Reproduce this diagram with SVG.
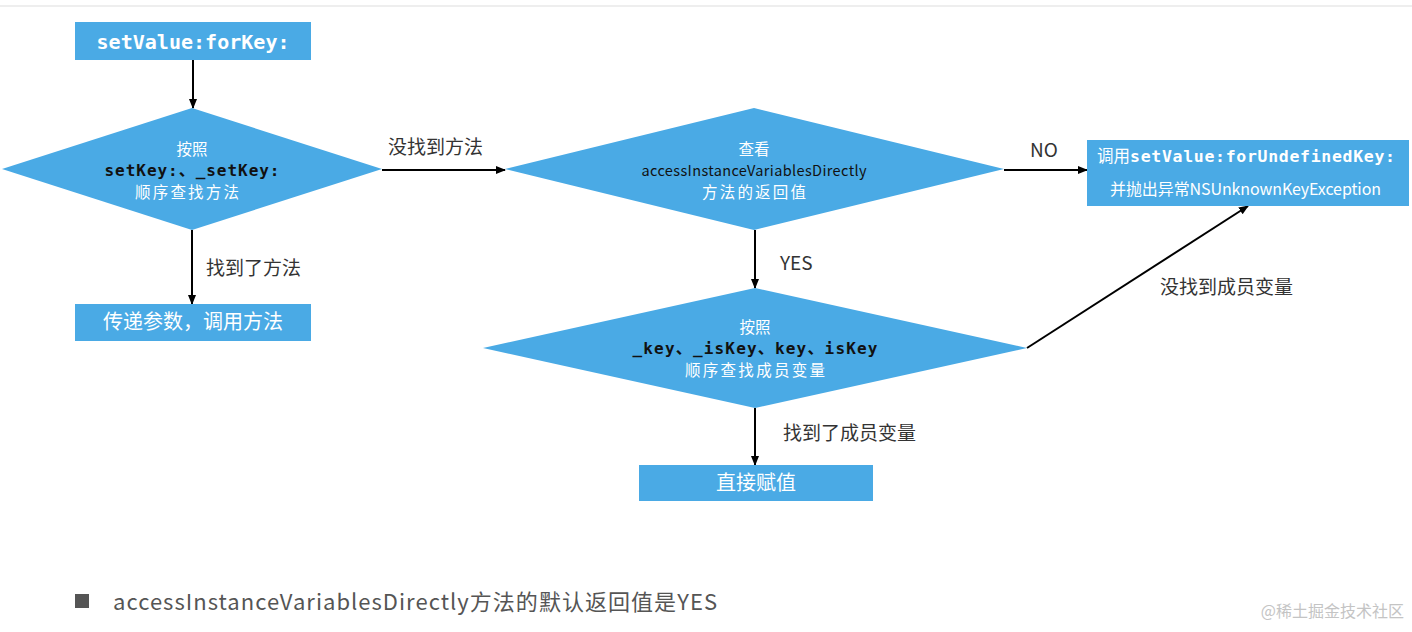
<svg xmlns="http://www.w3.org/2000/svg" width="1412" height="632" viewBox="0 0 1412 632">
<defs>
<style>
.node{fill:#4aaae5;}
.cn{font-family:"Noto Sans CJK SC","Noto Sans",sans-serif;}
.wt{fill:#ffffff;}
.mono{font-family:"DejaVu Sans Mono","Noto Sans CJK SC",monospace;font-weight:bold;}
.lbl{font-family:"Noto Sans CJK SC","Noto Sans",sans-serif;font-size:19px;fill:#333333;}
.edge{stroke:#000;stroke-width:2;fill:none;marker-end:url(#ah);}
</style>
<marker id="ah" markerWidth="10" markerHeight="10" refX="9" refY="5" orient="auto" markerUnits="userSpaceOnUse">
<path d="M0,1 L10,5 L0,9 Z" fill="#000"/>
</marker>
</defs>
<rect x="0" y="0" width="1412" height="632" fill="#ffffff"/>
<line x1="0" y1="6" x2="1412" y2="6" stroke="#eeeeee" stroke-width="2"/>

<g id="connectors">
<line class="edge" x1="193" y1="60" x2="193" y2="108"/>
<line class="edge" x1="192" y1="230" x2="192" y2="304"/>
<line class="edge" x1="382" y1="170" x2="505" y2="170"/>
<line class="edge" x1="1004" y1="170" x2="1087" y2="170"/>
<line class="edge" x1="755" y1="230" x2="755" y2="288"/>
<line class="edge" x1="755" y1="408" x2="755" y2="465"/>
<line class="edge" x1="1027" y1="348" x2="1248" y2="206"/>
<text class="lbl" x="388" y="154">没找到方法</text>
<text class="lbl" x="206" y="275">找到了方法</text>
<text class="lbl" x="1030" y="157" font-family="Liberation Sans,sans-serif">NO</text>
<text class="lbl" x="780" y="270">YES</text>
<text class="lbl" x="783" y="440">找到了成员变量</text>
<text class="lbl" x="1160" y="294">没找到成员变量</text>
</g>

<g id="start">
<rect class="node" x="75" y="22" width="236" height="38"/>
<text class="mono wt" x="193" y="49" font-size="20" text-anchor="middle" textLength="193">setValue:forKey:</text>
</g>

<g id="decision1">
<polygon class="node" points="2,169 192,108 382,169 192,230"/>
<text class="cn wt" x="192" y="155" font-size="15.5" text-anchor="middle">按照</text>
<text class="mono" x="192" y="176" font-size="16" fill="#111" text-anchor="middle" textLength="175">setKey:、_setKey:</text>
<text class="cn wt" x="187" y="197.5" font-size="15.5" text-anchor="middle" textLength="104">顺序查找方法</text>
</g>

<g id="callMethod">
<rect class="node" x="75" y="304" width="236" height="37"/>
<text class="cn wt" x="193" y="329" font-size="20" text-anchor="middle">传递参数，调用方法</text>
</g>

<g id="decision2">
<polygon class="node" points="505,169 754,108 1004,169 754,230"/>
<text class="cn wt" x="754" y="155" font-size="15.5" text-anchor="middle">查看</text>
<text class="cn" x="754" y="176" font-size="14.5" fill="#111" text-anchor="middle" textLength="225">accessInstanceVariablesDirectly</text>
<text class="cn wt" x="754" y="197.5" font-size="15.5" text-anchor="middle" textLength="104">方法的返回值</text>
</g>

<g id="undefinedKey">
<rect class="node" x="1087" y="140" width="322" height="66"/>
<text x="1097" y="162" font-size="16.5"><tspan class="cn wt">调用</tspan><tspan class="mono wt" textLength="265">setValue:forUndefinedKey:</tspan></text>
<text class="cn wt" x="1110" y="195" font-size="16" textLength="271">并抛出异常NSUnknownKeyException</text>
</g>

<g id="decision3">
<polygon class="node" points="483,348 755,288 1027,348 755,408"/>
<text class="cn wt" x="755" y="333" font-size="15.5" text-anchor="middle">按照</text>
<text class="mono" x="755" y="354" font-size="16" fill="#111" text-anchor="middle" textLength="245">_key、_isKey、key、isKey</text>
<text class="cn wt" x="755" y="375.5" font-size="15.5" text-anchor="middle" textLength="140">顺序查找成员变量</text>
</g>

<g id="assign">
<rect class="node" x="639" y="465" width="234" height="36"/>
<text class="cn wt" x="756" y="490" font-size="20" text-anchor="middle">直接赋值</text>
</g>

<g id="note">
<rect x="75" y="594" width="14" height="14" fill="#555555"/>
<text class="cn" x="113" y="610" font-size="22" fill="#555555" textLength="604">accessInstanceVariablesDirectly方法的默认返回值是YES</text>
</g>
<text class="cn" x="1404" y="617" font-size="16" fill="#c4c4c4" text-anchor="end">@稀土掘金技术社区</text>
</svg>
